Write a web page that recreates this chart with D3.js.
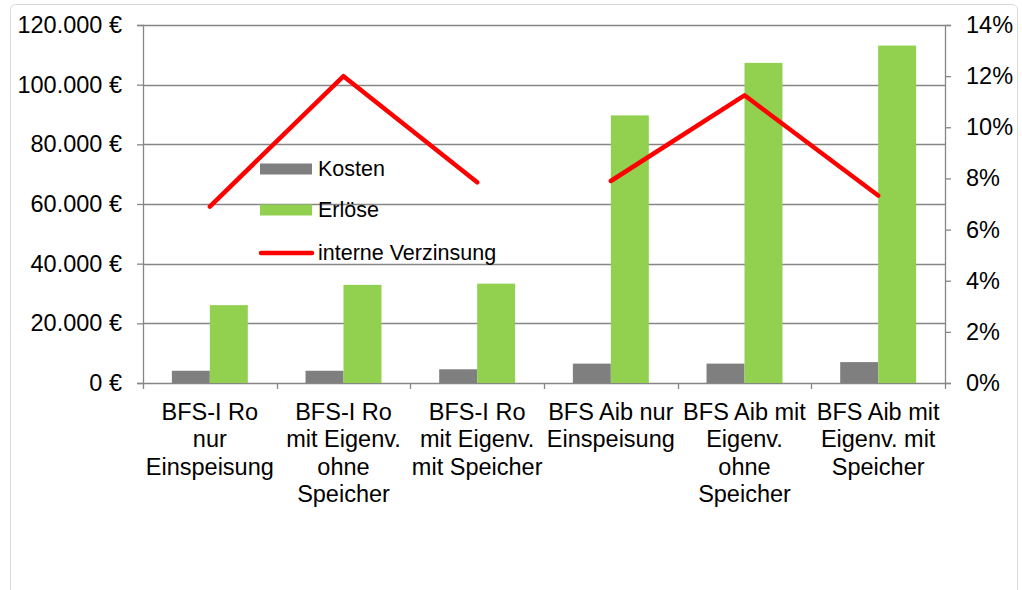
<!DOCTYPE html>
<html>
<head>
<meta charset="utf-8">
<script src="https://cdn.jsdelivr.net/npm/d3@7"></script>
<style>
  body { margin: 0; background: #fff; }
  svg { display: block; font-family: "Liberation Sans", Arial, sans-serif; }
</style>
</head>
<body>
<div id="chart"></div>
<script>
// categories (label lines as shown under the axis)
var kategorien = ["Ro_nur", "Ro_ohne", "Ro_mit", "Aib_nur", "Aib_ohne", "Aib_mit"];
var kategorieLabels = [
  ["BFS-I Ro", "nur", "Einspeisung"],
  ["BFS-I Ro", "mit Eigenv.", "ohne", "Speicher"],
  ["BFS-I Ro", "mit Eigenv.", "mit Speicher"],
  ["BFS Aib nur", "Einspeisung"],
  ["BFS Aib mit", "Eigenv.", "ohne", "Speicher"],
  ["BFS Aib mit", "Eigenv. mit", "Speicher"]
];
var gruppe = ["Ro", "Ro", "Ro", "Aib", "Aib", "Aib"];

var kosten = [4100, 4100, 4600, 6500, 6500, 7000];
var erloese = [26100, 32900, 33300, 89700, 107300, 113100];
var verzinsung = [0.069, 0.120, 0.0785, 0.079, 0.1125, 0.0733];

var euroTicks = [0, 20000, 40000, 60000, 80000, 100000, 120000];
var prozentTicks = [0, 0.02, 0.04, 0.06, 0.08, 0.10, 0.12, 0.14];

var serien = ["Kosten", "Erlöse"];
var farben = { "Kosten": "#7f7f7f", "Erlöse": "#92d050", "interne Verzinsung": "#ff0000" };

var width = 1022, height = 590;
var plotLeft = 143, plotRight = 945, plotTop = 25, plotBottom = 383;

var svg = d3.select("#chart").append("svg")
  .attr("width", width)
  .attr("height", height);

// chart frame
svg.append("rect")
  .attr("x", 10.5).attr("y", 4.5)
  .attr("width", 1007).attr("height", 620)
  .attr("rx", 5)
  .attr("fill", "#fff")
  .attr("stroke", "#d9d9d9");

var x = d3.scaleBand().domain(kategorien).range([plotLeft, plotRight]);
var x1 = d3.scaleBand().domain(serien).range([0, x.bandwidth()])
  .paddingInner(0).paddingOuter(0.76);
var yL = d3.scaleLinear().domain([0, 120000]).range([plotBottom, plotTop]);
var yR = d3.scaleLinear().domain([0, 0.14]).range([plotBottom, plotTop]);

var gridColor = "#868686";
var fmtEuro = function(d) {
  return d3.format(",")(d).replace(/,/g, ".") + " €";
};

// gridlines
svg.append("g").selectAll("line")
  .data(euroTicks)
  .enter().append("line")
    .attr("x1", plotLeft).attr("x2", plotRight)
    .attr("y1", d => Math.round(yL(d)) + 0.5)
    .attr("y2", d => Math.round(yL(d)) + 0.5)
    .attr("stroke", gridColor)
    .attr("stroke-width", 1.3);

// bars
var rows = kategorien.map((k, i) => ({ k: k, Kosten: kosten[i], "Erlöse": erloese[i] }));
svg.append("g").selectAll("g")
  .data(rows)
  .enter().append("g")
    .attr("transform", d => "translate(" + x(d.k) + ",0)")
  .selectAll("rect")
  .data(d => serien.map(s => ({ s: s, v: d[s] })))
  .enter().append("rect")
    .attr("x", d => x1(d.s))
    .attr("width", x1.bandwidth())
    .attr("y", d => yL(d.v))
    .attr("height", d => yL(0) - yL(d.v))
    .attr("fill", d => farben[d.s]);

// left axis
var axL = svg.append("g")
  .attr("transform", "translate(" + plotLeft + ",0)")
  .call(d3.axisLeft(yL).tickValues(euroTicks).tickFormat(fmtEuro)
    .tickSize(6).tickPadding(15));
// right axis
var axR = svg.append("g")
  .attr("transform", "translate(" + plotRight + ",0)")
  .call(d3.axisRight(yR).tickValues(prozentTicks).tickFormat(d3.format(".0%"))
    .tickSize(6).tickPadding(15));

[axL, axR].forEach(function(ax) {
  ax.select(".domain").attr("stroke", gridColor).attr("stroke-width", 1.3);
  ax.selectAll(".tick line").attr("stroke", gridColor).attr("stroke-width", 1.3);
  ax.selectAll(".tick text").attr("font-size", 23.5).attr("fill", "#000")
    .attr("font-family", "Liberation Sans, Arial, sans-serif");
});

// bottom ticks at category boundaries
var grenzen = kategorien.map(k => x(k)).concat([plotRight]);
svg.append("g").selectAll("line")
  .data(grenzen)
  .enter().append("line")
    .attr("x1", d => Math.round(d) + 0.5).attr("x2", d => Math.round(d) + 0.5)
    .attr("y1", plotBottom).attr("y2", plotBottom + 6)
    .attr("stroke", gridColor).attr("stroke-width", 1.3);

// category labels
svg.append("g").selectAll("text")
  .data(kategorien)
  .enter().append("text")
    .attr("x", d => x(d) + x.bandwidth() / 2)
    .attr("y", 419.5)
    .attr("text-anchor", "middle")
    .attr("font-size", 23.5)
    .attr("fill", "#000")
  .selectAll("tspan")
  .data((d, i) => kategorieLabels[i])
  .enter().append("tspan")
    .attr("x", function() { return d3.select(this.parentNode).attr("x"); })
    .attr("dy", (d, i) => i === 0 ? 0 : 27.5)
    .text(d => d);

// internal rate of return line (two separate segments)
var punkte = kategorien.map((k, i) => ({ k: k, g: gruppe[i], v: verzinsung[i] }));
var line = d3.line()
  .x(d => x(d.k) + x.bandwidth() / 2)
  .y(d => yR(d.v));
svg.append("g").selectAll("path")
  .data(Array.from(d3.group(punkte, d => d.g).values()))
  .enter().append("path")
    .attr("d", line)
    .attr("fill", "none")
    .attr("stroke", farben["interne Verzinsung"])
    .attr("stroke-width", 4.5)
    .attr("stroke-linecap", "round")
    .attr("stroke-linejoin", "round");

// legend
var legende = svg.append("g");
var legendY = [169, 210, 253];
["Kosten", "Erlöse"].forEach(function(s, i) {
  legende.append("rect")
    .attr("x", 260).attr("y", legendY[i] - 5.5)
    .attr("width", 52).attr("height", 11)
    .attr("fill", farben[s]);
});
legende.append("line")
  .attr("x1", 261).attr("x2", 312)
  .attr("y1", legendY[2]).attr("y2", legendY[2])
  .attr("stroke", farben["interne Verzinsung"])
  .attr("stroke-width", 4.5)
  .attr("stroke-linecap", "round");
["Kosten", "Erlöse", "interne Verzinsung"].forEach(function(s, i) {
  legende.append("text")
    .attr("x", 318).attr("y", legendY[i] + 6.5)
    .attr("font-size", 21.5)
    .attr("fill", "#000")
    .text(s);
});
</script>
</body>
</html>
